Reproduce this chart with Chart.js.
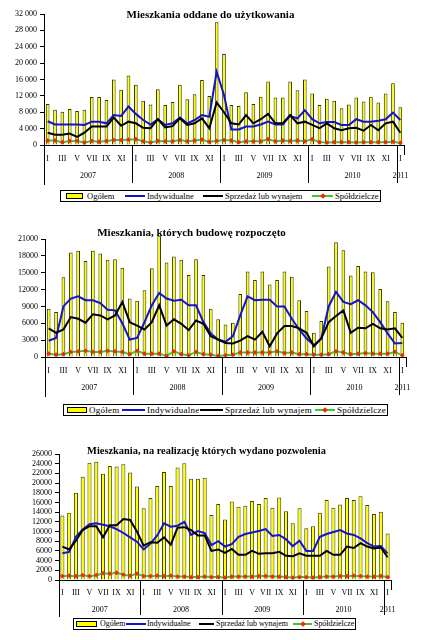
<!DOCTYPE html>
<html><head><meta charset="utf-8">
<script src="https://cdn.jsdelivr.net/npm/chart.js@4.4.1/dist/chart.umd.min.js"></script>
<style>
html,body{margin:0;padding:0;background:#fff;}
body{width:426px;height:640px;position:relative;overflow:hidden;font-family:"Liberation Serif","Times New Roman",serif;color:#000;}
canvas{position:absolute;left:0;}
.title{position:absolute;font-weight:bold;white-space:nowrap;transform:translate(-50%,-50%);line-height:1;z-index:5;}
.lgbox{position:absolute;border:1px solid #000;box-sizing:border-box;background:#fff;}
.lgtxt{position:absolute;white-space:nowrap;line-height:1;transform:translateY(-50%);}
.sym{position:absolute;box-sizing:border-box;}
</style>
</head><body>
<canvas id="c1"></canvas><canvas id="c2"></canvas><canvas id="c3"></canvas>
<script>
// ---------- data ----------
const months = ['I','II','III','IV','V','VI','VII','VIII','IX','X','XI','XII'];
const years = ['2007','2008','2009','2010','2011'];
const monthsPerYear = [12,12,12,12,1];
const seriesNames = ['Ogółem','Indywidualne','Sprzedaż lub wynajem','Spółdzielcze'];
const titles = ['Mieszkania oddane do użytkowania','Mieszkania, których budowę rozpoczęto','Mieszkania, na realizację których wydano pozwolenia'];

// Panel 1: oddane do użytkowania
const ogolem1 = [10000,8600,8100,8800,8300,8600,11700,11700,11000,16000,13500,17000,
                 14700,10800,9900,13600,9800,10500,14700,11200,12400,15900,12000,30000,
                 22200,9800,9500,12900,10000,11800,15500,11600,11600,15500,13400,16000,
                 12600,9800,11300,10800,9000,9900,11600,10600,11800,10400,12600,15100,
                 9200];
const indyw1 = [5800,5000,5000,5000,5000,4900,5700,5700,5300,7300,7100,9400,
                7600,6100,5000,6300,4900,5300,6700,5300,6100,7300,6900,17900,
                12200,3800,3800,4500,4500,5000,5700,5000,5000,7100,6500,8500,
                6300,5300,5600,5600,4900,4900,6300,5700,5700,5900,6300,7900,
                6100];
const sprz1 = [3000,2500,2500,2800,2000,3000,4500,4500,4500,6700,4700,5700,
               5300,4200,4100,6300,4300,4600,6500,4900,5300,6500,4100,10400,
               8000,5300,5000,7300,5300,6300,7600,5300,5300,7300,5300,5700,
               4900,4100,5300,4100,3600,4100,4200,3500,4900,3600,5300,5700,
               3000];
const spol1 = [1100,1100,700,1000,1000,600,1000,800,1000,1200,1200,1300,
               1400,900,600,1000,900,900,1200,900,1100,1300,800,1000,
               1200,1100,700,900,900,900,1400,900,1100,1000,1100,900,
               1400,700,600,700,700,700,600,700,700,700,700,800,
               500];
const yTicks1 = [0,4000,8000,12000,16000,20000,24000,28000,32000];
const yTickLabels1 = ['0','4 000','8 000','12 000','16 000','20 000','24 000','28 000','32 000'];

// Panel 2: budowę rozpoczęto
const ogolem2 = [8600,8000,14200,18600,18900,17100,18900,18400,17300,17400,15900,10400,
                 10000,11900,15800,21600,16800,17900,17300,14600,17400,14600,8600,6700,
                 5800,6100,11200,15200,13700,15200,12900,13700,15200,14300,10100,8200,
                 4300,6400,16100,20400,19000,14500,16200,15200,15100,12100,9900,8000,
                 6100];
const indyw2 = [2900,3400,9000,10400,10800,10100,10100,9600,8400,8300,6000,3100,
                3400,6200,9200,11400,10400,10000,10200,9200,9200,6200,4200,3100,
                2700,3700,7400,10800,10100,10200,10200,9000,9000,6800,4900,3300,
                2100,3300,9000,11600,9800,9400,10100,9200,8000,6200,4200,2400,
                2500];
const sprz2 = [5100,4300,4900,7100,6800,6100,7600,7400,6700,7400,9800,6200,
               5600,4900,6200,9200,5600,6700,5900,4800,6500,5900,3700,3100,
               2500,2400,2900,3700,3100,4500,1900,4200,5500,5500,5100,4300,
               1900,3300,6200,7300,8300,4300,5200,5100,5900,5100,4900,5100,
               3400];
const spol2 = [600,400,500,900,1000,1100,900,900,1100,1000,900,500,
               1100,600,600,600,200,1000,500,300,900,500,400,200,
               300,400,800,800,800,800,800,1000,700,800,500,500,
               400,400,500,1000,800,500,600,700,600,600,600,900,
               300];
const yTicks2 = [0,3000,6000,9000,12000,15000,18000,21000];
const yTickLabels2 = ['0','3000','6000','9000','12000','15000','18000','21000'];

// Panel 3: wydano pozwolenia
const ogolem3 = [13300,13900,18000,21300,24200,24400,21900,23500,23400,23900,22200,19300,
                 14800,16900,19400,22300,19400,23200,24100,20900,20900,21100,13400,15700,
                 12500,16200,15100,15300,16300,15700,16900,14900,17000,14200,11700,14800,
                 10700,11100,13900,16500,14900,15600,16900,16500,17300,15500,13600,14100,
                 9600];
const indyw3 = [5500,5800,8900,10400,11500,11700,11400,11100,10500,9700,8800,7900,
                6300,7500,9200,11700,11000,11200,12000,9300,10100,9700,7200,8000,
                6900,7400,8900,9500,9800,10100,10500,9100,9300,8400,7000,8100,
                6000,6000,8900,9500,9900,10300,9600,9300,8600,7600,6900,7000,
                5500];
const sprz3 = [6900,6300,8100,10300,11100,11100,8800,11300,11300,12600,12400,10000,
               7100,7800,7700,8800,7300,10800,10900,10300,9200,9200,6000,6300,
               5600,6400,5200,5200,6000,5400,5500,5500,5800,5000,4900,5500,
               5000,5000,5000,6000,5200,5200,6900,6600,7600,6900,6500,6700,
               4700];
const spol3 = [800,900,800,1000,800,1000,1400,1300,1500,1100,900,1300,
               800,800,900,800,900,700,700,600,600,700,600,600,
               500,700,700,700,700,800,800,700,700,600,500,600,
               600,500,600,700,700,800,800,900,800,700,700,800,
               600];
const yTicks3 = [0,2000,4000,6000,8000,10000,12000,14000,16000,18000,20000,22000,24000,26000];
const yTickLabels3 = ['0','2000','4000','6000','8000','10000','12000','14000','16000','18000','20000','22000','24000','26000'];

// ---------- helpers ----------
const categories = years.flatMap((y,i)=>months.slice(0,monthsPerYear[i]));
const FONT = "'Liberation Serif', 'Times New Roman', serif";

const yearRow = {
  id:'yearRow',
  afterDraw(chart, args, o){
    const {ctx, chartArea:ca, scales:{x}} = chart;
    const n = chart.data.labels.length;
    const cw = (ca.right-ca.left)/n;
    const yb = ca.bottom + o.lineLen;
    const px = v => Math.round(v)+0.5;
    ctx.save();
    ctx.strokeStyle='#000'; ctx.lineWidth=1; ctx.fillStyle='#000';
    ctx.font = '8px '+FONT; ctx.textAlign='center'; ctx.textBaseline='middle';
    ctx.beginPath(); ctx.moveTo(px(ca.left), ca.bottom); ctx.lineTo(px(ca.left), yb+2); ctx.stroke();
    let start=0;
    years.forEach((yr,i)=>{
      const cnt = monthsPerYear[i];
      const x0 = x.getPixelForValue(start)-cw/2;
      const x1 = x.getPixelForValue(start+cnt-1)+cw/2;
      ctx.fillText(yr,(x0+x1)/2, ca.bottom+o.yearOff);
      ctx.beginPath(); ctx.moveTo(px(x1), ca.bottom);
      ctx.lineTo(px(x1), i<years.length-1 ? yb : ca.bottom+10); ctx.stroke();
      start += cnt;
    });
    ctx.restore();
  }
};

function build(id, c){
  const cv = document.getElementById(id);
  cv.width = 426; cv.height = c.height;
  cv.style.top = c.top+'px'; cv.style.width='426px'; cv.style.height=c.height+'px';
  const a = c.area;
  return new Chart(cv, {
    type:'bar',
    data:{labels:categories, datasets:[
      {type:'line', label:seriesNames[3], data:c.spol, borderColor:'#33cc33', borderWidth:2,
       pointStyle:'rectRot', pointRadius:2.4, pointBackgroundColor:'#ff2200', pointBorderColor:'#ff2200',
       pointBorderWidth:0, tension:0, order:1},
      {type:'line', label:seriesNames[2], data:c.sprz, borderColor:'#000000', borderWidth:2, pointRadius:0, tension:0, order:2},
      {type:'line', label:seriesNames[1], data:c.indyw, borderColor:'#1414c8', borderWidth:2, pointRadius:0, tension:0, order:3},
      {type:'bar', label:seriesNames[0], data:c.ogolem, backgroundColor:'#ffff00', borderColor:c.barBorder,
       borderWidth:1, barPercentage:c.barPct, categoryPercentage:1, order:4, clip:false}
    ]},
    options:{
      responsive:false, animation:false, events:[],
      layout:{padding:{left:0, top:a.top-c.top, right:426-a.right, bottom:0}},
      plugins:{legend:{display:false}, tooltip:{enabled:false}, title:{display:false},
               yearRow:{yearOff:c.yearOff, lineLen:c.lineLen}},
      scales:{
        x:{grid:{display:false, drawTicks:false}, border:{display:true,color:'#000',width:1},
           ticks:{autoSkip:false, maxRotation:0, minRotation:0, padding:c.monthPad, color:'#000',
                  font:{family:FONT,size:8}, callback:(v,i)=> (categories[i] && months.indexOf(categories[i])%2===0) ? categories[i] : ''},
           afterFit:s=>{s.height = (c.top+c.height)-a.bottom;}},
        y:{min:0, max:c.yTicks[c.yTicks.length-1],
           grid:{display:true, drawOnChartArea:false, drawTicks:true, tickLength:4, color:'#000'},
           border:{display:true,color:'#000',width:1},
           ticks:{autoSkip:false, padding:3, color:'#000', font:{family:FONT,size:8},
                  callback:(v)=>{const k=c.yTicks.indexOf(v); return k>=0?c.yLabels[k]:'';}},
           afterBuildTicks:s=>{s.ticks = c.yTicks.map(v=>({value:v}));},
           afterFit:s=>{s.width = a.left;}}
      }
    },
    plugins:[yearRow]
  });
}

function title(txt, cx, cy, size){
  const d=document.createElement('div'); d.className='title'; d.textContent=txt;
  d.style.left=cx+'px'; d.style.top=cy+'px'; d.style.fontSize=size+'px';
  document.body.appendChild(d);
}

function legend(box, pos, fs, ls){
  const b=document.createElement('div'); b.className='lgbox';
  Object.assign(b.style,{left:box.l+'px',top:box.t+'px',width:(box.r-box.l)+'px',height:box.h+'px'});
  document.body.appendChild(b);
  const cy = box.t+box.h/2;
  pos.forEach((p,i)=>{
    const add=(st)=>{const s=document.createElement('div'); s.className='sym'; Object.assign(s.style,st); document.body.appendChild(s); return s;};
    if(i===0){
      add({left:p[0]+'px',top:(cy-3)+'px',width:(p[1]-p[0])+'px',height:'6px',background:'#ffff00',border:'1px solid #000'});
    } else if(i===3){
      add({left:p[0]+'px',top:(cy-1)+'px',width:(p[1]-p[0])+'px',height:'2px',background:'#33cc33'});
      const m=(p[0]+p[1])/2;
      add({left:(m-2)+'px',top:(cy-2)+'px',width:'4px',height:'4px',background:'#ff2200',transform:'rotate(45deg)'});
    } else {
      add({left:p[0]+'px',top:(cy-1)+'px',width:(p[1]-p[0])+'px',height:'2px',background:i===1?'#1414c8':'#000'});
    }
    const t=document.createElement('div'); t.className='lgtxt'; t.textContent=seriesNames[i];
    Object.assign(t.style,{left:p[2]+'px',top:cy+'px',fontSize:fs+'px',letterSpacing:ls+'px'});
    document.body.appendChild(t);
  });
}

build('c1',{top:0,height:186,area:{left:44,top:14,right:404,bottom:145},
  ogolem:ogolem1,indyw:indyw1,sprz:sprz1,spol:spol1,yTicks:yTicks1,yLabels:yTickLabels1,
  barPct:0.5,barBorder:'#333300',monthPad:9,yearOff:31,lineLen:38});
build('c2',{top:213,height:187,area:{left:45,top:239,right:406,bottom:357},
  ogolem:ogolem2,indyw:indyw2,sprz:sprz2,spol:spol2,yTicks:yTicks2,yLabels:yTickLabels2,
  barPct:0.5,barBorder:'#333300',monthPad:9,yearOff:31,lineLen:38});
build('c3',{top:430,height:187,area:{left:59,top:454,right:391,bottom:580},
  ogolem:ogolem3,indyw:indyw3,sprz:sprz3,spol:spol3,yTicks:yTicks3,yLabels:yTickLabels3,
  barPct:0.6,barBorder:'#404000',monthPad:8,yearOff:30,lineLen:35});

title(titles[0],210.5,14,11);
title(titles[1],191.5,231.5,11);
title(titles[2],206.5,451,10.4);

legend({l:60,t:190,r:381,h:12},[[66,83,87],[125,145,147],[203,223,225],[312,333,335]],8.5,0);
legend({l:63,t:404,r:388,h:12},[[67,87,89],[122,145,147],[200,223,225],[315,335,337]],9,0.25);
legend({l:73,t:618,r:356,h:12},[[76,97,100],[126,146,147],[199,214,216],[293,312,314]],8,-0.05);
</script>
</body></html>
